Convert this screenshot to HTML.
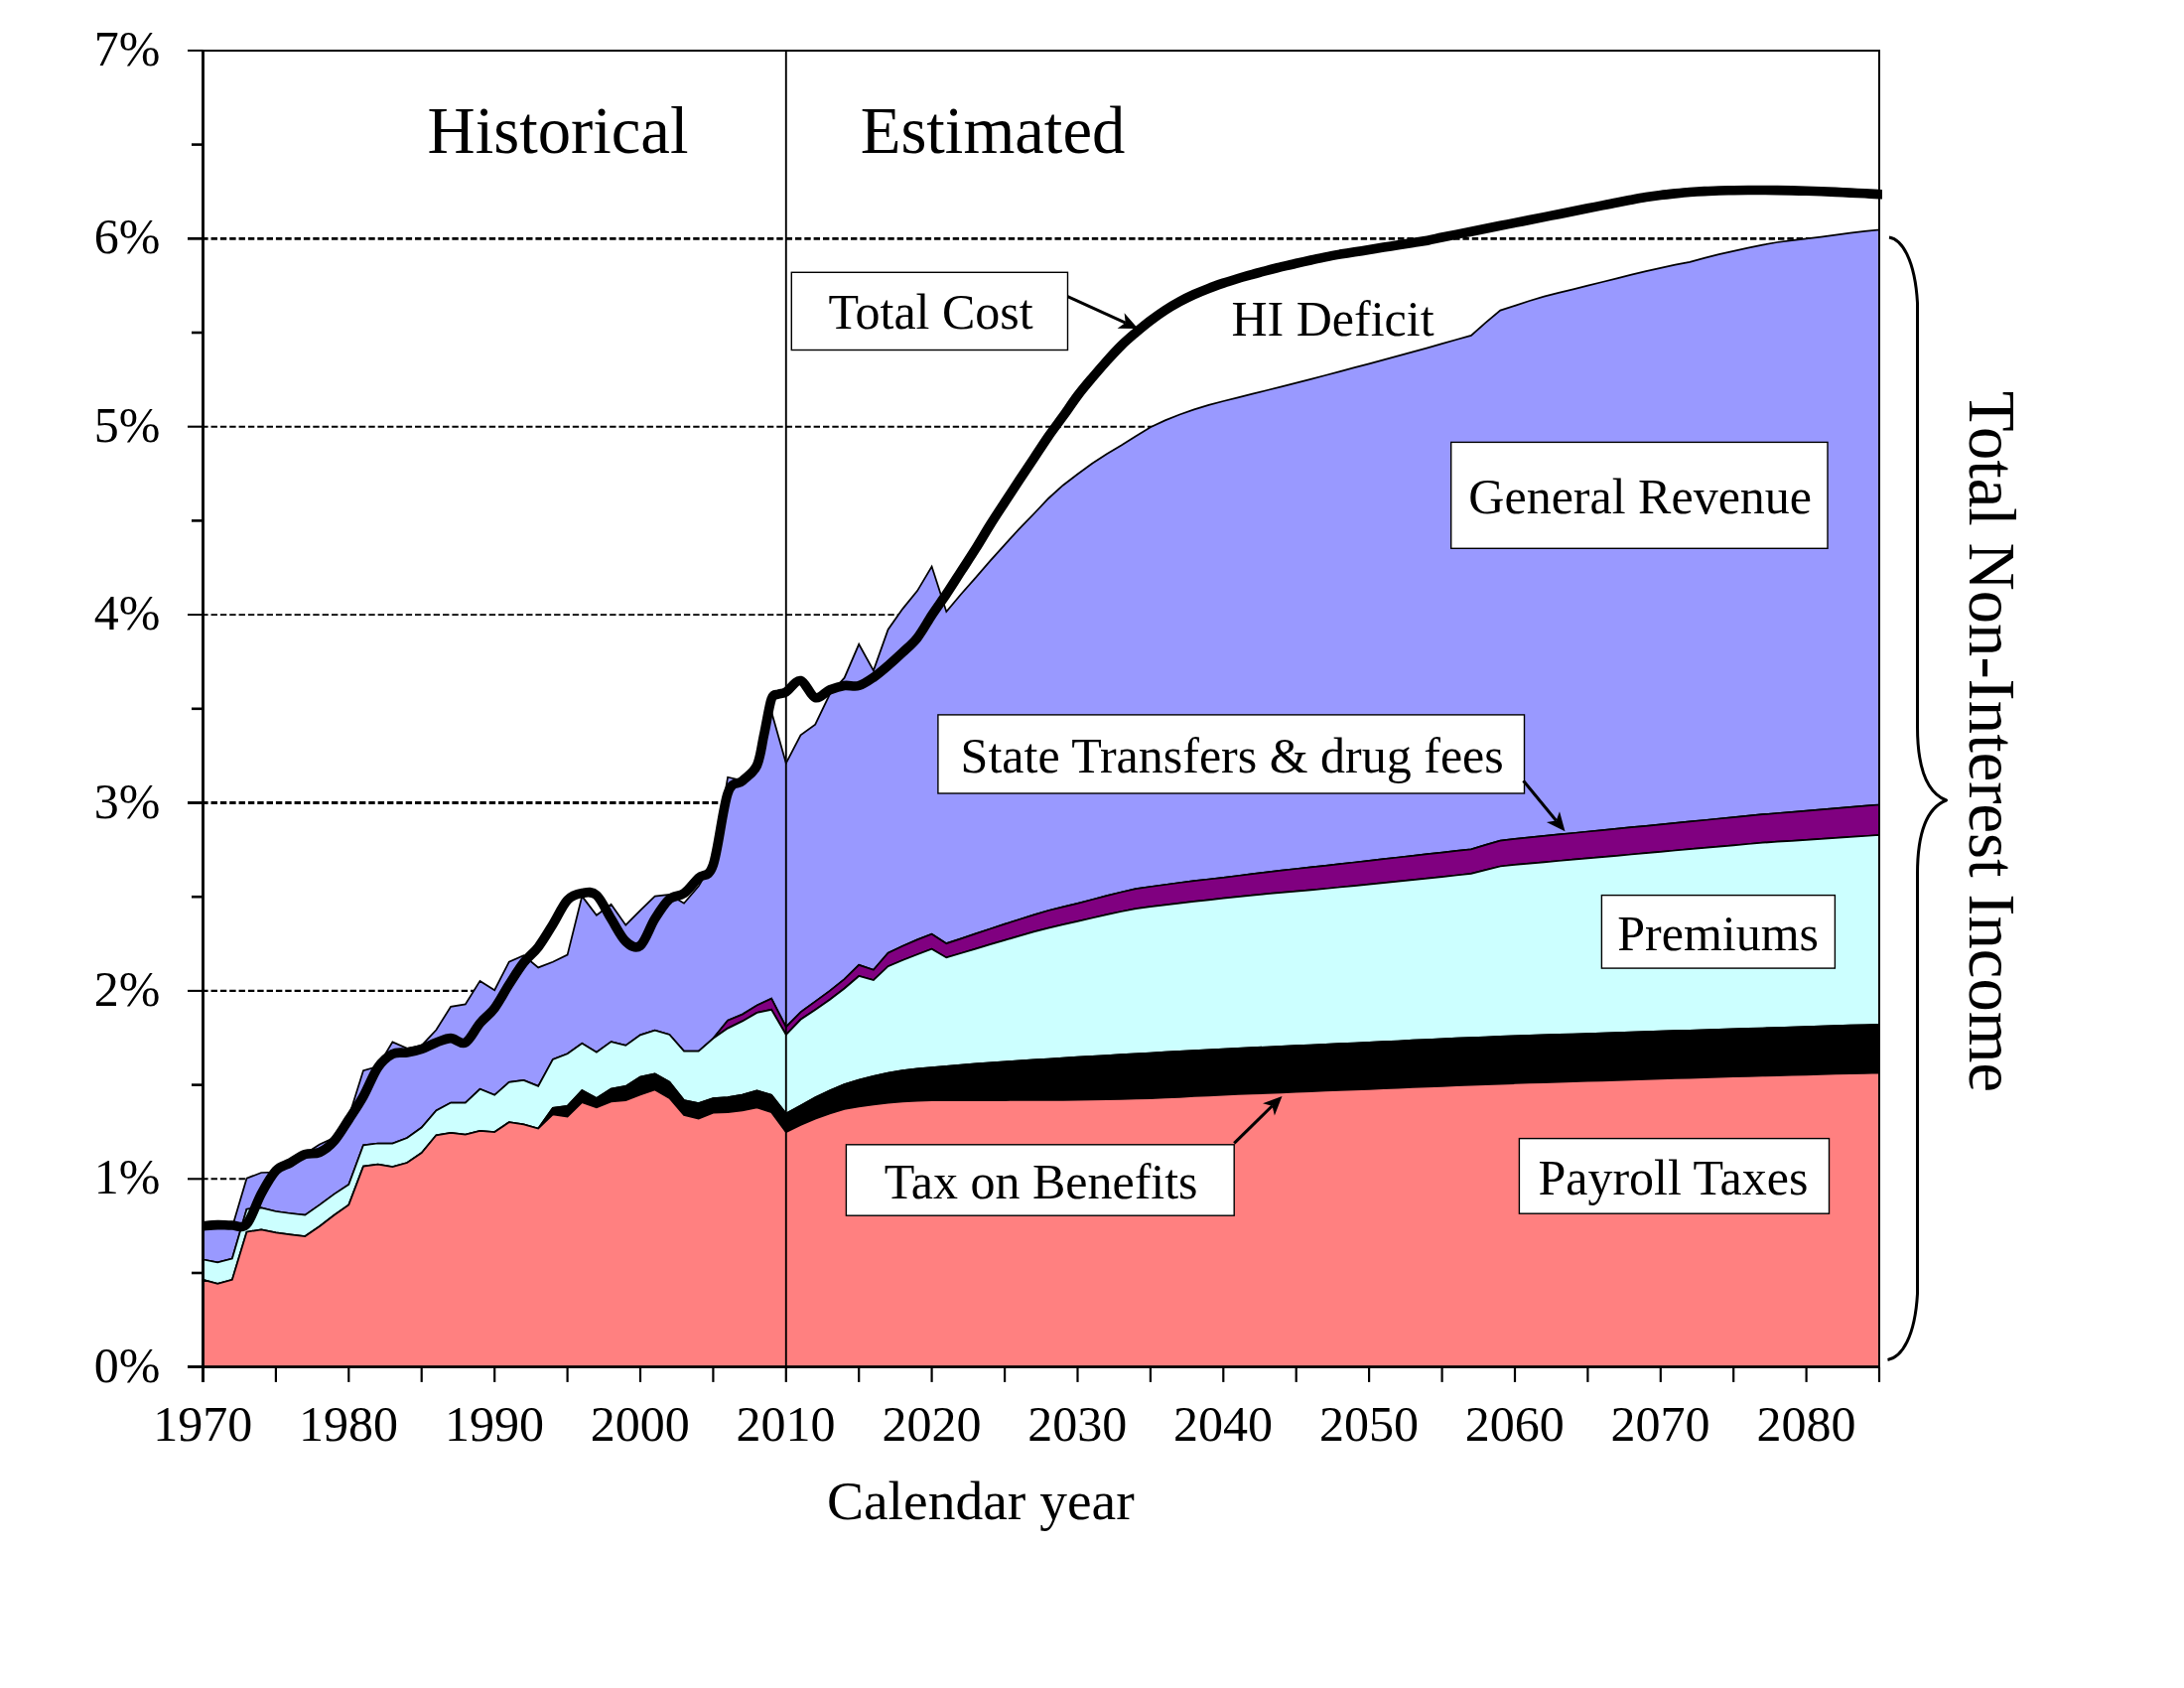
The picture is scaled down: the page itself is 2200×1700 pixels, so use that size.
<!DOCTYPE html>
<html lang="en"><head><meta charset="utf-8"><title>Medicare Sources of Non-Interest Income and Expenditures as a Percentage of GDP</title>
<style>html,body{margin:0;padding:0;background:#fff}body{width:2200px;height:1700px;overflow:hidden}svg{display:block}text{font-family:"Liberation Serif",serif;fill:#000}</style></head><body>
<svg width="2200" height="1700" viewBox="0 0 2200 1700">
<rect width="2200" height="1700" fill="#fff"/>
<g stroke="#000" stroke-dasharray="6.4 2.94" fill="none">
<line x1="203.2" y1="1187.3" x2="1893" y2="1187.3" stroke-width="2.1"/>
<line x1="203.2" y1="997.9" x2="1893" y2="997.9" stroke-width="2.1"/>
<line x1="203.2" y1="808.5" x2="1893" y2="808.5" stroke-width="2.9"/>
<line x1="203.2" y1="619.1" x2="1893" y2="619.1" stroke-width="1.9"/>
<line x1="203.2" y1="429.7" x2="1893" y2="429.7" stroke-width="2.1"/>
<line x1="203.2" y1="240.3" x2="1893" y2="240.3" stroke-width="2.8"/>
</g>
<g>
<polygon points="204.5,1236 219.2,1237 233.9,1236 248.5,1186.7 263.2,1181 277.9,1180.5 292.6,1171 307.3,1162 322,1152.5 336.6,1145.7 351.3,1125 366,1078.1 380.7,1074 395.4,1049.4 410.1,1055.8 424.7,1052.9 439.4,1037.3 454.1,1013.8 468.8,1011.4 483.5,987.9 498.2,997.2 512.8,968.7 527.5,962.3 542.2,974.4 556.9,968.7 571.6,961.6 586.3,902.6 600.9,921.8 615.6,910.7 630.3,931.7 645,916.8 659.7,902.6 674.4,900.9 689,909.7 703.7,892.6 718.4,868 733.1,782.7 747.8,786 762.5,768 777.1,716.8 791.8,768.7 806.5,740.3 821.2,729.6 835.9,699 850.6,682.7 865.2,648.8 879.9,675.3 894.6,634 909.3,613.1 924,595.1 938.6,570.5 953.3,616 968,598.5 982.7,581.8 997.4,564.9 1012.1,548.6 1026.7,532.6 1041.4,517.5 1056.1,502 1070.8,488.7 1085.5,477.5 1100.2,466.8 1114.8,457.2 1129.5,448.5 1144.2,439.2 1158.9,430.3 1173.6,423.4 1188.3,417.5 1202.9,412.4 1217.6,407.8 1232.3,404 1247,400.4 1261.7,396.7 1276.4,393 1291,389.3 1305.7,385.6 1320.4,381.8 1335.1,378 1349.8,374.1 1364.5,370.2 1379.1,366.3 1393.8,362.3 1408.5,358.4 1423.2,354.3 1437.9,350.3 1452.6,346.2 1467.2,342 1481.9,337.9 1496.6,324.9 1511.3,312.6 1526,307.8 1540.7,303 1555.3,298.6 1570,294.9 1584.7,291.3 1599.4,287.6 1614.1,284 1628.8,280.3 1643.4,276.6 1658.1,273.2 1672.8,269.8 1687.5,266.6 1702.2,263.8 1716.8,259.9 1731.5,256.2 1746.2,252.9 1760.9,249.6 1775.6,246.6 1790.3,244 1804.9,242.1 1819.6,240.4 1834.3,238.6 1849,236.6 1863.7,234.7 1878.4,232.9 1893,231.4 1893,810.5 1878.4,811.7 1863.7,812.9 1849,814.1 1834.3,815.4 1819.6,816.6 1804.9,817.8 1790.3,819 1775.6,820.2 1760.9,821.6 1746.2,823.1 1731.5,824.5 1716.8,826 1702.2,827.4 1687.5,828.9 1672.8,830.3 1658.1,831.8 1643.4,833.2 1628.8,834.6 1614.1,836.1 1599.4,837.5 1584.7,839 1570,840.4 1555.3,841.9 1540.7,843.3 1526,844.8 1511.3,846.7 1496.6,850.9 1481.9,855.3 1467.2,856.9 1452.6,858.6 1437.9,860.2 1423.2,861.9 1408.5,863.5 1393.8,865.2 1379.1,866.8 1364.5,868.5 1349.8,870.1 1335.1,871.8 1320.4,873.4 1305.7,875 1291,876.6 1276.4,878.4 1261.7,880.2 1247,882 1232.3,883.8 1217.6,885.5 1202.9,887.2 1188.3,889 1173.6,891 1158.9,893 1144.2,895.2 1129.5,898.5 1114.8,902.2 1100.2,906 1085.5,909.8 1070.8,913.4 1056.1,917 1041.4,921.3 1026.7,926 1012.1,930.7 997.4,935.5 982.7,940.4 968,945.3 953.3,950.2 938.6,940.7 924,946.4 909.3,952.7 894.6,959.8 879.9,976.8 865.2,971.8 850.6,986.1 835.9,997.9 821.2,1008.6 806.5,1019.3 791.8,1034.2 777.1,1005.7 762.5,1012.5 747.8,1021.6 733.1,1027.7 718.4,1045.8 703.7,1058.6 689,1058.6 674.4,1042 659.7,1037.7 645,1042.4 630.3,1052.9 615.6,1049.1 600.9,1059.7 586.3,1050.8 571.6,1061.2 556.9,1066.9 542.2,1093.9 527.5,1087.9 512.8,1089.9 498.2,1102.8 483.5,1096.8 468.8,1110.6 454.1,1110.6 439.4,1118.4 424.7,1135.5 410.1,1146 395.4,1151.5 380.7,1151.5 366,1153.3 351.3,1193 336.6,1202.6 322,1213.4 307.3,1223.7 292.6,1222 277.9,1220 263.2,1216.3 248.5,1217.7 233.9,1267.5 219.2,1271.3 204.5,1268.5" fill="#9999FF" stroke="#000" stroke-width="1.75" stroke-linejoin="miter"/>
<polygon points="718.4,1045.8 733.1,1027.7 747.8,1021.6 762.5,1012.5 777.1,1005.7 791.8,1034.2 806.5,1019.3 821.2,1008.6 835.9,997.9 850.6,986.1 865.2,971.8 879.9,976.8 894.6,959.8 909.3,952.7 924,946.4 938.6,940.7 953.3,950.2 968,945.3 982.7,940.4 997.4,935.5 1012.1,930.7 1026.7,926 1041.4,921.3 1056.1,917 1070.8,913.4 1085.5,909.8 1100.2,906 1114.8,902.2 1129.5,898.5 1144.2,895.2 1158.9,893 1173.6,891 1188.3,889 1202.9,887.2 1217.6,885.5 1232.3,883.8 1247,882 1261.7,880.2 1276.4,878.4 1291,876.6 1305.7,875 1320.4,873.4 1335.1,871.8 1349.8,870.1 1364.5,868.5 1379.1,866.8 1393.8,865.2 1408.5,863.5 1423.2,861.9 1437.9,860.2 1452.6,858.6 1467.2,856.9 1481.9,855.3 1496.6,850.9 1511.3,846.7 1526,844.8 1540.7,843.3 1555.3,841.9 1570,840.4 1584.7,839 1599.4,837.5 1614.1,836.1 1628.8,834.6 1643.4,833.2 1658.1,831.8 1672.8,830.3 1687.5,828.9 1702.2,827.4 1716.8,826 1731.5,824.5 1746.2,823.1 1760.9,821.6 1775.6,820.2 1790.3,819 1804.9,817.8 1819.6,816.6 1834.3,815.4 1849,814.1 1863.7,812.9 1878.4,811.7 1893,810.5 1893,841 1878.4,842 1863.7,842.9 1849,843.9 1834.3,844.9 1819.6,845.8 1804.9,846.8 1790.3,847.7 1775.6,848.7 1760.9,850 1746.2,851.3 1731.5,852.6 1716.8,853.9 1702.2,855.2 1687.5,856.5 1672.8,857.8 1658.1,859.2 1643.4,860.5 1628.8,861.8 1614.1,863.1 1599.4,864.4 1584.7,865.7 1570,867 1555.3,868.3 1540.7,869.6 1526,870.8 1511.3,872.5 1496.6,876.2 1481.9,879.9 1467.2,881.5 1452.6,883.1 1437.9,884.6 1423.2,886.1 1408.5,887.7 1393.8,889.2 1379.1,890.7 1364.5,892.1 1349.8,893.5 1335.1,895 1320.4,896.4 1305.7,897.6 1291,898.8 1276.4,900.2 1261.7,901.7 1247,903.1 1232.3,904.6 1217.6,906.3 1202.9,907.9 1188.3,909.6 1173.6,911.4 1158.9,913.2 1144.2,915.1 1129.5,918 1114.8,921.2 1100.2,924.5 1085.5,927.8 1070.8,931.2 1056.1,934.6 1041.4,938.4 1026.7,942.6 1012.1,946.9 997.4,951.2 982.7,955.6 968,960 953.3,964.4 938.6,955.7 924,961.3 909.3,967 894.6,973.2 879.9,987.1 865.2,983 850.6,995.5 835.9,1006.8 821.2,1017 806.5,1026.8 791.8,1042 777.1,1016.8 762.5,1019.9 747.8,1028.4 733.1,1035.6 718.4,1045.8" fill="#800080" stroke="#000" stroke-width="1.75" stroke-linejoin="miter"/>
<polygon points="204.5,1268.5 219.2,1271.3 233.9,1267.5 248.5,1217.7 263.2,1216.3 277.9,1220 292.6,1222 307.3,1223.7 322,1213.4 336.6,1202.6 351.3,1193 366,1153.3 380.7,1151.5 395.4,1151.5 410.1,1146 424.7,1135.5 439.4,1118.4 454.1,1110.6 468.8,1110.6 483.5,1096.8 498.2,1102.8 512.8,1089.9 527.5,1087.9 542.2,1093.9 556.9,1066.9 571.6,1061.2 586.3,1050.8 600.9,1059.7 615.6,1049.1 630.3,1052.9 645,1042.4 659.7,1037.7 674.4,1042 689,1058.6 703.7,1058.6 718.4,1045.8 733.1,1035.6 747.8,1028.4 762.5,1019.9 777.1,1016.8 791.8,1042 806.5,1026.8 821.2,1017 835.9,1006.8 850.6,995.5 865.2,983 879.9,987.1 894.6,973.2 909.3,967 924,961.3 938.6,955.7 953.3,964.4 968,960 982.7,955.6 997.4,951.2 1012.1,946.9 1026.7,942.6 1041.4,938.4 1056.1,934.6 1070.8,931.2 1085.5,927.8 1100.2,924.5 1114.8,921.2 1129.5,918 1144.2,915.1 1158.9,913.2 1173.6,911.4 1188.3,909.6 1202.9,907.9 1217.6,906.3 1232.3,904.6 1247,903.1 1261.7,901.7 1276.4,900.2 1291,898.8 1305.7,897.6 1320.4,896.4 1335.1,895 1349.8,893.5 1364.5,892.1 1379.1,890.7 1393.8,889.2 1408.5,887.7 1423.2,886.1 1437.9,884.6 1452.6,883.1 1467.2,881.5 1481.9,879.9 1496.6,876.2 1511.3,872.5 1526,870.8 1540.7,869.6 1555.3,868.3 1570,867 1584.7,865.7 1599.4,864.4 1614.1,863.1 1628.8,861.8 1643.4,860.5 1658.1,859.2 1672.8,857.8 1687.5,856.5 1702.2,855.2 1716.8,853.9 1731.5,852.6 1746.2,851.3 1760.9,850 1775.6,848.7 1790.3,847.7 1804.9,846.8 1819.6,845.8 1834.3,844.9 1849,843.9 1863.7,842.9 1878.4,842 1893,841 1893,1031.8 1878.4,1032.3 1863.7,1032.7 1849,1033.2 1834.3,1033.6 1819.6,1034.1 1804.9,1034.6 1790.3,1035 1775.6,1035.5 1760.9,1035.9 1746.2,1036.4 1731.5,1036.9 1716.8,1037.3 1702.2,1037.8 1687.5,1038.2 1672.8,1038.7 1658.1,1039.2 1643.4,1039.6 1628.8,1040.1 1614.1,1040.5 1599.4,1041 1584.7,1041.5 1570,1041.9 1555.3,1042.4 1540.7,1042.8 1526,1043.3 1511.3,1043.9 1496.6,1044.5 1481.9,1045.1 1467.2,1045.7 1452.6,1046.3 1437.9,1047 1423.2,1047.7 1408.5,1048.5 1393.8,1049.2 1379.1,1049.9 1364.5,1050.6 1349.8,1051.2 1335.1,1051.9 1320.4,1052.5 1305.7,1053.2 1291,1053.9 1276.4,1054.5 1261.7,1055.2 1247,1055.8 1232.3,1056.5 1217.6,1057.3 1202.9,1058.1 1188.3,1058.9 1173.6,1059.7 1158.9,1060.5 1144.2,1061.3 1129.5,1062.1 1114.8,1063 1100.2,1063.8 1085.5,1064.6 1070.8,1065.5 1056.1,1066.5 1041.4,1067.4 1026.7,1068.4 1012.1,1069.3 997.4,1070.3 982.7,1071.4 968,1072.7 953.3,1073.8 938.6,1075 924,1076.4 909.3,1078.2 894.6,1080.7 879.9,1083.9 865.2,1087.5 850.6,1092 835.9,1098.2 821.2,1105.4 806.5,1113.4 791.8,1121.5 777.1,1102.7 762.5,1098.4 747.8,1102.7 733.1,1105 718.4,1106 703.7,1111 689,1108.1 674.4,1089.6 659.7,1081.4 645,1084.6 630.3,1093.9 615.6,1096.7 600.9,1106 586.3,1098.2 571.6,1113.8 556.9,1115.9 542.2,1136.6 527.5,1132.3 512.8,1130.2 498.2,1140 483.5,1139 468.8,1142.6 454.1,1140.9 439.4,1143.3 424.7,1161 410.1,1171 395.4,1175 380.7,1172.7 366,1174.6 351.3,1213.4 336.6,1223.7 322,1235 307.3,1245 292.6,1243.3 277.9,1241.4 263.2,1238.3 248.5,1240.7 233.9,1288.8 219.2,1292.9 204.5,1288.8" fill="#CCFFFF" stroke="#000" stroke-width="1.75" stroke-linejoin="miter"/>
<polygon points="542.2,1136.6 556.9,1115.9 571.6,1113.8 586.3,1098.2 600.9,1106 615.6,1096.7 630.3,1093.9 645,1084.6 659.7,1081.4 674.4,1089.6 689,1108.1 703.7,1111 718.4,1106 733.1,1105 747.8,1102.7 762.5,1098.4 777.1,1102.7 791.8,1121.5 806.5,1113.4 821.2,1105.4 835.9,1098.2 850.6,1092 865.2,1087.5 879.9,1083.9 894.6,1080.7 909.3,1078.2 924,1076.4 938.6,1075 953.3,1073.8 968,1072.7 982.7,1071.4 997.4,1070.3 1012.1,1069.3 1026.7,1068.4 1041.4,1067.4 1056.1,1066.5 1070.8,1065.5 1085.5,1064.6 1100.2,1063.8 1114.8,1063 1129.5,1062.1 1144.2,1061.3 1158.9,1060.5 1173.6,1059.7 1188.3,1058.9 1202.9,1058.1 1217.6,1057.3 1232.3,1056.5 1247,1055.8 1261.7,1055.2 1276.4,1054.5 1291,1053.9 1305.7,1053.2 1320.4,1052.5 1335.1,1051.9 1349.8,1051.2 1364.5,1050.6 1379.1,1049.9 1393.8,1049.2 1408.5,1048.5 1423.2,1047.7 1437.9,1047 1452.6,1046.3 1467.2,1045.7 1481.9,1045.1 1496.6,1044.5 1511.3,1043.9 1526,1043.3 1540.7,1042.8 1555.3,1042.4 1570,1041.9 1584.7,1041.5 1599.4,1041 1614.1,1040.5 1628.8,1040.1 1643.4,1039.6 1658.1,1039.2 1672.8,1038.7 1687.5,1038.2 1702.2,1037.8 1716.8,1037.3 1731.5,1036.9 1746.2,1036.4 1760.9,1035.9 1775.6,1035.5 1790.3,1035 1804.9,1034.6 1819.6,1034.1 1834.3,1033.6 1849,1033.2 1863.7,1032.7 1878.4,1032.3 1893,1031.8 1893,1080.4 1878.4,1080.8 1863.7,1081.2 1849,1081.5 1834.3,1081.9 1819.6,1082.3 1804.9,1082.7 1790.3,1083.1 1775.6,1083.4 1760.9,1083.8 1746.2,1084.2 1731.5,1084.7 1716.8,1085.1 1702.2,1085.6 1687.5,1086 1672.8,1086.5 1658.1,1086.9 1643.4,1087.4 1628.8,1087.8 1614.1,1088.3 1599.4,1088.7 1584.7,1089.2 1570,1089.6 1555.3,1090.1 1540.7,1090.5 1526,1091 1511.3,1091.6 1496.6,1092.1 1481.9,1092.7 1467.2,1093.2 1452.6,1093.8 1437.9,1094.4 1423.2,1095 1408.5,1095.6 1393.8,1096.2 1379.1,1096.8 1364.5,1097.4 1349.8,1098 1335.1,1098.5 1320.4,1099.1 1305.7,1099.7 1291,1100.3 1276.4,1100.9 1261.7,1101.4 1247,1102 1232.3,1102.6 1217.6,1103.3 1202.9,1104 1188.3,1104.8 1173.6,1105.5 1158.9,1106.2 1144.2,1106.5 1129.5,1106.8 1114.8,1107.1 1100.2,1107.4 1085.5,1107.7 1070.8,1107.8 1056.1,1107.8 1041.4,1107.9 1026.7,1107.9 1012.1,1108 997.4,1108 982.7,1108.1 968,1108.1 953.3,1108.2 938.6,1108.2 924,1108.6 909.3,1109.3 894.6,1110.7 879.9,1112.5 865.2,1114.3 850.6,1117 835.9,1121.4 821.2,1126.8 806.5,1133 791.8,1140.1 777.1,1120.2 762.5,1115.5 747.8,1118.3 733.1,1120.2 718.4,1120.6 703.7,1126.6 689,1123 674.4,1106 659.7,1097.4 645,1102.4 630.3,1108.1 615.6,1109.5 600.9,1115.2 586.3,1110.2 571.6,1124.5 556.9,1122.3 542.2,1136.6" fill="#000000" stroke="#000" stroke-width="1.75" stroke-linejoin="miter"/>
<polygon points="204.5,1288.8 219.2,1292.9 233.9,1288.8 248.5,1240.7 263.2,1238.3 277.9,1241.4 292.6,1243.3 307.3,1245 322,1235 336.6,1223.7 351.3,1213.4 366,1174.6 380.7,1172.7 395.4,1175 410.1,1171 424.7,1161 439.4,1143.3 454.1,1140.9 468.8,1142.6 483.5,1139 498.2,1140 512.8,1130.2 527.5,1132.3 542.2,1136.6 556.9,1122.3 571.6,1124.5 586.3,1110.2 600.9,1115.2 615.6,1109.5 630.3,1108.1 645,1102.4 659.7,1097.4 674.4,1106 689,1123 703.7,1126.6 718.4,1120.6 733.1,1120.2 747.8,1118.3 762.5,1115.5 777.1,1120.2 791.8,1140.1 806.5,1133 821.2,1126.8 835.9,1121.4 850.6,1117 865.2,1114.3 879.9,1112.5 894.6,1110.7 909.3,1109.3 924,1108.6 938.6,1108.2 953.3,1108.2 968,1108.1 982.7,1108.1 997.4,1108 1012.1,1108 1026.7,1107.9 1041.4,1107.9 1056.1,1107.8 1070.8,1107.8 1085.5,1107.7 1100.2,1107.4 1114.8,1107.1 1129.5,1106.8 1144.2,1106.5 1158.9,1106.2 1173.6,1105.5 1188.3,1104.8 1202.9,1104 1217.6,1103.3 1232.3,1102.6 1247,1102 1261.7,1101.4 1276.4,1100.9 1291,1100.3 1305.7,1099.7 1320.4,1099.1 1335.1,1098.5 1349.8,1098 1364.5,1097.4 1379.1,1096.8 1393.8,1096.2 1408.5,1095.6 1423.2,1095 1437.9,1094.4 1452.6,1093.8 1467.2,1093.2 1481.9,1092.7 1496.6,1092.1 1511.3,1091.6 1526,1091 1540.7,1090.5 1555.3,1090.1 1570,1089.6 1584.7,1089.2 1599.4,1088.7 1614.1,1088.3 1628.8,1087.8 1643.4,1087.4 1658.1,1086.9 1672.8,1086.5 1687.5,1086 1702.2,1085.6 1716.8,1085.1 1731.5,1084.7 1746.2,1084.2 1760.9,1083.8 1775.6,1083.4 1790.3,1083.1 1804.9,1082.7 1819.6,1082.3 1834.3,1081.9 1849,1081.5 1863.7,1081.2 1878.4,1080.8 1893,1080.4 1893,1376.7 204.5,1376.7" fill="#FF8080" stroke="#000" stroke-width="1.75" stroke-linejoin="miter"/>
</g>
<g stroke="#000" fill="none">
<path d="M204.5,50.9 H1893 V1376.7" stroke-width="2"/>
<line x1="791.8" y1="50.9" x2="791.8" y2="1376.7" stroke-width="1.9"/>
<line x1="204.5" y1="49.9" x2="204.5" y2="1391.9" stroke-width="2.9"/>
<line x1="189" y1="1376.7" x2="1894" y2="1376.7" stroke-width="2.75"/>
<line x1="189" y1="1376.7" x2="204.5" y2="1376.7" stroke-width="2.6"/>
<line x1="193" y1="1282" x2="204.5" y2="1282" stroke-width="2.6"/>
<line x1="189" y1="1187.3" x2="204.5" y2="1187.3" stroke-width="2.1"/>
<line x1="193" y1="1092.6" x2="204.5" y2="1092.6" stroke-width="2.6"/>
<line x1="189" y1="997.9" x2="204.5" y2="997.9" stroke-width="2.1"/>
<line x1="193" y1="903.2" x2="204.5" y2="903.2" stroke-width="2.6"/>
<line x1="189" y1="808.5" x2="204.5" y2="808.5" stroke-width="2.9"/>
<line x1="193" y1="713.8" x2="204.5" y2="713.8" stroke-width="2.6"/>
<line x1="189" y1="619.1" x2="204.5" y2="619.1" stroke-width="1.9"/>
<line x1="193" y1="524.4" x2="204.5" y2="524.4" stroke-width="2.6"/>
<line x1="189" y1="429.7" x2="204.5" y2="429.7" stroke-width="2.1"/>
<line x1="193" y1="335" x2="204.5" y2="335" stroke-width="2.6"/>
<line x1="189" y1="240.3" x2="204.5" y2="240.3" stroke-width="2.8"/>
<line x1="193" y1="145.6" x2="204.5" y2="145.6" stroke-width="2.6"/>
<line x1="189" y1="50.9" x2="204.5" y2="50.9" stroke-width="2.0"/>
<line x1="204.5" y1="1376.7" x2="204.5" y2="1391.9" stroke-width="2.2"/>
<line x1="277.9" y1="1376.7" x2="277.9" y2="1391.9" stroke-width="2.2"/>
<line x1="351.3" y1="1376.7" x2="351.3" y2="1391.9" stroke-width="2.2"/>
<line x1="424.7" y1="1376.7" x2="424.7" y2="1391.9" stroke-width="2.2"/>
<line x1="498.2" y1="1376.7" x2="498.2" y2="1391.9" stroke-width="2.2"/>
<line x1="571.6" y1="1376.7" x2="571.6" y2="1391.9" stroke-width="2.2"/>
<line x1="645" y1="1376.7" x2="645" y2="1391.9" stroke-width="2.2"/>
<line x1="718.4" y1="1376.7" x2="718.4" y2="1391.9" stroke-width="2.2"/>
<line x1="791.8" y1="1376.7" x2="791.8" y2="1391.9" stroke-width="2.2"/>
<line x1="865.2" y1="1376.7" x2="865.2" y2="1391.9" stroke-width="2.2"/>
<line x1="938.6" y1="1376.7" x2="938.6" y2="1391.9" stroke-width="2.2"/>
<line x1="1012.1" y1="1376.7" x2="1012.1" y2="1391.9" stroke-width="2.2"/>
<line x1="1085.5" y1="1376.7" x2="1085.5" y2="1391.9" stroke-width="2.2"/>
<line x1="1158.9" y1="1376.7" x2="1158.9" y2="1391.9" stroke-width="2.2"/>
<line x1="1232.3" y1="1376.7" x2="1232.3" y2="1391.9" stroke-width="2.2"/>
<line x1="1305.7" y1="1376.7" x2="1305.7" y2="1391.9" stroke-width="2.2"/>
<line x1="1379.1" y1="1376.7" x2="1379.1" y2="1391.9" stroke-width="2.2"/>
<line x1="1452.6" y1="1376.7" x2="1452.6" y2="1391.9" stroke-width="2.2"/>
<line x1="1526" y1="1376.7" x2="1526" y2="1391.9" stroke-width="2.2"/>
<line x1="1599.4" y1="1376.7" x2="1599.4" y2="1391.9" stroke-width="2.2"/>
<line x1="1672.8" y1="1376.7" x2="1672.8" y2="1391.9" stroke-width="2.2"/>
<line x1="1746.2" y1="1376.7" x2="1746.2" y2="1391.9" stroke-width="2.2"/>
<line x1="1819.6" y1="1376.7" x2="1819.6" y2="1391.9" stroke-width="2.2"/>
<line x1="1893" y1="1376.7" x2="1893" y2="1391.9" stroke-width="2.2"/>
</g>
<path d="M204.5,1234.8C206.9,1234.6 214.3,1233.7 219.2,1233.6C224.1,1233.5 229,1234.1 233.9,1234C238.8,1233.9 243.7,1238.2 248.5,1232.9C253.4,1227.6 258.3,1211.2 263.2,1202.2C268.1,1193.2 273,1184.2 277.9,1179C282.8,1173.8 287.7,1173.8 292.6,1171C297.5,1168.2 302.4,1164.2 307.3,1162.5C312.2,1160.8 317.1,1162.7 322,1160.5C326.9,1158.3 331.8,1154.7 336.6,1149.2C341.5,1143.7 346.4,1135 351.3,1127.5C356.2,1120 361.1,1113 366,1104.2C370.9,1095.5 375.8,1082.1 380.7,1075C385.6,1067.9 390.5,1064 395.4,1061.5C400.3,1059 405.2,1060.8 410.1,1060C415,1059.2 419.9,1058.2 424.7,1056.5C429.6,1054.8 434.5,1051.8 439.4,1050C444.3,1048.2 449.2,1045.6 454.1,1045.6C459,1045.6 463.9,1052.5 468.8,1050C473.7,1047.5 478.6,1036.3 483.5,1030.5C488.4,1024.7 493.3,1021.8 498.2,1015.3C503.1,1008.8 507.9,999.1 512.8,991.5C517.7,983.9 522.6,975.8 527.5,969.5C532.4,963.2 537.3,960.2 542.2,953.8C547.1,947.4 552,938.9 556.9,931C561.8,923.1 566.7,911.8 571.6,906.5C576.5,901.2 581.4,900.3 586.3,899.5C591.2,898.7 596,897.2 600.9,901.5C605.8,905.8 610.7,917.5 615.6,925.3C620.5,933.1 625.4,943.6 630.3,948.1C635.2,952.6 640.1,956.2 645,952.4C649.9,948.6 654.8,933.1 659.7,925.3C664.6,917.5 669.5,909.7 674.4,905.4C679.3,901.1 684.1,903.2 689,899.7C693.9,896.2 698.8,888.9 703.7,884.1C708.6,879.3 713.5,885.2 718.4,871C723.3,856.8 728.2,813.1 733.1,799C738,784.9 742.9,791.2 747.8,786.5C752.7,781.8 758.8,778.8 762.5,770.9C766.1,763 767.3,750.1 769.8,739C772.2,727.9 774.8,710.6 777.1,704C779.5,697.4 781.3,700.5 783.7,699.3C786.2,698.1 788,699.2 791.8,696.9C795.6,694.6 801.6,684.5 806.5,685.5C811.4,686.5 816.3,701.1 821.2,702.6C826.1,704.1 831,696.8 835.9,694.8C840.8,692.8 845.7,691.2 850.6,690.5C855.4,689.8 860.3,691.9 865.2,690.5C870.1,689.1 875,685.6 879.9,682.2C884.8,678.8 889.7,674.5 894.6,670.3C899.5,666.1 904.4,661.6 909.3,657C914.2,652.4 919.1,648.6 924,642.4C928.9,636.2 933.8,627 938.6,619.6C943.5,612.2 948.4,605.6 953.3,598.3C958.2,590.9 963.1,583.1 968,575.5C972.9,567.9 977.8,560.6 982.7,552.8C987.6,545 992.5,536.4 997.4,528.6C1002.3,520.8 1007.2,513.4 1012.1,505.9C1017,498.4 1021.9,491.1 1026.7,483.7C1031.6,476.3 1036.5,469.1 1041.4,461.7C1046.3,454.3 1051.2,446.6 1056.1,439.5C1061,432.4 1065.9,426.1 1070.8,419.3C1075.7,412.5 1080.6,405 1085.5,398.5C1090.4,392 1095.3,386.3 1100.2,380.5C1105.1,374.7 1110,369 1114.8,363.6C1119.7,358.2 1124.6,352.8 1129.5,348C1134.4,343.2 1139.3,339.1 1144.2,334.9C1149.1,330.7 1154,326.6 1158.9,322.9C1163.8,319.2 1168.7,315.7 1173.6,312.5C1178.5,309.3 1183.4,306.5 1188.3,303.8C1193.2,301.1 1198,298.7 1202.9,296.5C1207.8,294.3 1212.7,292.3 1217.6,290.4C1222.5,288.5 1227.4,286.8 1232.3,285.1C1237.2,283.5 1242.1,282 1247,280.5C1251.9,279 1256.8,277.7 1261.7,276.3C1266.6,274.9 1271.5,273.6 1276.4,272.3C1281.3,271 1286.1,269.9 1291,268.7C1295.9,267.5 1300.8,266.3 1305.7,265.2C1310.6,264.1 1315.5,263.1 1320.4,262C1325.3,260.9 1330.2,259.9 1335.1,258.9C1340,257.9 1344.9,257 1349.8,256.1C1354.7,255.3 1359.6,254.6 1364.5,253.8C1369.4,253 1374.2,252.3 1379.1,251.5C1384,250.7 1388.9,249.9 1393.8,249.1C1398.7,248.3 1403.6,247.6 1408.5,246.8C1413.4,246 1418.3,245.2 1423.2,244.4C1428.1,243.6 1433,243.1 1437.9,242.2C1442.8,241.3 1447.7,240 1452.6,239C1457.4,238 1462.3,237.1 1467.2,236.1C1472.1,235.1 1477,234.2 1481.9,233.2C1486.8,232.2 1491.7,231.2 1496.6,230.2C1501.5,229.2 1506.4,228.3 1511.3,227.3C1516.2,226.3 1521.1,225.4 1526,224.4C1530.9,223.4 1535.8,222.5 1540.7,221.5C1545.5,220.5 1550.4,219.6 1555.3,218.6C1560.2,217.6 1565.1,216.7 1570,215.7C1574.9,214.7 1579.8,213.7 1584.7,212.7C1589.6,211.7 1594.5,210.8 1599.4,209.8C1604.3,208.8 1609.2,207.9 1614.1,206.9C1619,205.9 1623.9,204.9 1628.8,204C1633.6,203.1 1638.5,202.1 1643.4,201.2C1648.3,200.3 1653.2,199.4 1658.1,198.6C1663,197.8 1667.9,197.1 1672.8,196.5C1677.7,195.9 1682.6,195.4 1687.5,194.9C1692.4,194.4 1697.3,193.9 1702.2,193.5C1707.1,193.1 1712,192.8 1716.8,192.6C1721.7,192.3 1726.6,192.2 1731.5,192C1736.4,191.8 1741.3,191.8 1746.2,191.7C1751.1,191.6 1756,191.5 1760.9,191.5C1765.8,191.5 1770.7,191.5 1775.6,191.5C1780.5,191.5 1785.4,191.5 1790.3,191.6C1795.2,191.7 1800.1,191.8 1804.9,191.9C1809.8,192 1814.7,192.2 1819.6,192.3C1824.5,192.5 1829.4,192.6 1834.3,192.8C1839.2,193 1844.1,193.2 1849,193.4C1853.9,193.6 1858.8,193.9 1863.7,194.1C1868.6,194.3 1873.5,194.6 1878.4,194.8C1883.3,195.1 1890.1,195.4 1893,195.6C1896,195.8 1895.5,195.7 1896,195.7" fill="none" stroke="#000" stroke-width="9.6" stroke-linejoin="round" stroke-linecap="butt"/>
<g font-size="50">
<text x="161.5" y="1391.7" text-anchor="end">0%</text>
<text x="161.5" y="1202.3" text-anchor="end">1%</text>
<text x="161.5" y="1012.9" text-anchor="end">2%</text>
<text x="161.5" y="823.5" text-anchor="end">3%</text>
<text x="161.5" y="634.1" text-anchor="end">4%</text>
<text x="161.5" y="444.7" text-anchor="end">5%</text>
<text x="161.5" y="255.3" text-anchor="end">6%</text>
<text x="161.5" y="65.9" text-anchor="end">7%</text>
<text x="204.3" y="1451.2" text-anchor="middle">1970</text>
<text x="351.1" y="1451.2" text-anchor="middle">1980</text>
<text x="498" y="1451.2" text-anchor="middle">1990</text>
<text x="644.8" y="1451.2" text-anchor="middle">2000</text>
<text x="791.6" y="1451.2" text-anchor="middle">2010</text>
<text x="938.4" y="1451.2" text-anchor="middle">2020</text>
<text x="1085.3" y="1451.2" text-anchor="middle">2030</text>
<text x="1232.1" y="1451.2" text-anchor="middle">2040</text>
<text x="1378.9" y="1451.2" text-anchor="middle">2050</text>
<text x="1525.8" y="1451.2" text-anchor="middle">2060</text>
<text x="1672.6" y="1451.2" text-anchor="middle">2070</text>
<text x="1819.4" y="1451.2" text-anchor="middle">2080</text>
</g>
<text x="987.8" y="1529.8" font-size="55.5" text-anchor="middle">Calendar year</text>
<text x="562" y="153.6" font-size="66.7" text-anchor="middle">Historical</text>
<text x="1000" y="153.6" font-size="66.7" text-anchor="middle">Estimated</text>
<text x="1342.5" y="337.9" font-size="50" text-anchor="middle">HI Deficit</text>
<rect x="797.3" y="274.3" width="278.2" height="78.2" fill="#fff" stroke="#000" stroke-width="1.4"/><text x="937.6" y="331.3" font-size="50" text-anchor="middle">Total Cost</text>
<rect x="1461.7" y="445.4" width="379.3" height="106.9" fill="#fff" stroke="#000" stroke-width="1.4"/><text x="1652.2" y="516.7" font-size="50" text-anchor="middle">General Revenue</text>
<rect x="944.9" y="719.9" width="590.6" height="79.1" fill="#fff" stroke="#000" stroke-width="1.4"/><text x="1241.2" y="778.1" font-size="50" text-anchor="middle">State Transfers &amp; drug fees</text>
<rect x="1613.4" y="901.6" width="235" height="73.5" fill="#fff" stroke="#000" stroke-width="1.4"/><text x="1730.7" y="957" font-size="50" text-anchor="middle">Premiums</text>
<rect x="852.4" y="1152.8" width="390.8" height="71.4" fill="#fff" stroke="#000" stroke-width="1.4"/><text x="1048.6" y="1206.6" font-size="50" text-anchor="middle">Tax on Benefits</text>
<rect x="1530.4" y="1146.6" width="312.1" height="75.6" fill="#fff" stroke="#000" stroke-width="1.4"/><text x="1685.4" y="1203" font-size="50" text-anchor="middle">Payroll Taxes</text>
<line x1="1075.5" y1="298.6" x2="1133.7" y2="325.1" stroke="#000" stroke-width="3.0"/><polygon points="1146.4,330.9 1125.6,330.8 1133.7,325.1 1132.6,315.3" fill="#000"/>
<line x1="1534.5" y1="786.3" x2="1567.6" y2="826.5" stroke="#000" stroke-width="3.0"/><polygon points="1576.5,837.3 1557.9,828 1567.6,826.5 1571,817.2" fill="#000"/>
<line x1="1243.2" y1="1151.4" x2="1281.5" y2="1113.8" stroke="#000" stroke-width="3.0"/><polygon points="1291.5,1104 1283.9,1123.4 1281.5,1113.8 1272,1111.2" fill="#000"/>
<path d="M1903,239 C1916,241 1929,262 1931.5,305 V732 C1931.5,772 1940,798 1960.5,806 C1940,814 1931.5,840 1931.5,880 V1303 C1929,1346 1916,1367 1901.5,1369.5" fill="none" stroke="#000" stroke-width="3" stroke-linejoin="round"/>
<text transform="translate(1983.8,393.8) rotate(90)" font-size="66.7">Total Non-Interest Income</text>
</svg></body></html>
